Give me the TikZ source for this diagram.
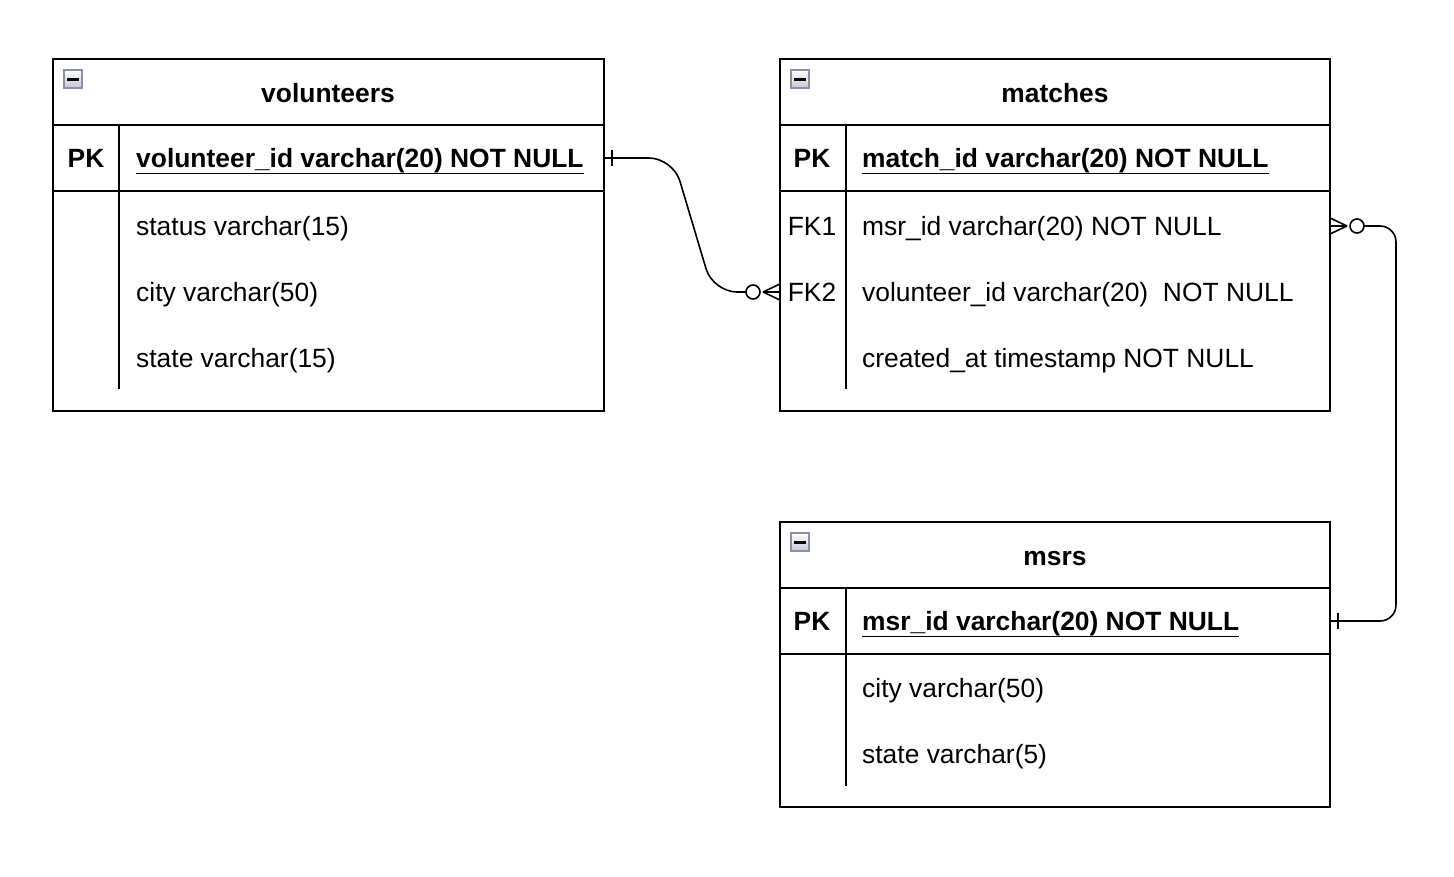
\documentclass[tikz,border=0pt]{standalone}
\usepackage{fontspec}
\setmainfont{Liberation Sans}
\begin{document}
\begin{tikzpicture}[x=1pt,y=-1pt,
  tbl/.style={draw=black, line width=2pt, rectangle, inner sep=0, outer sep=0, anchor=north west},
  sep/.style={line width=1.6pt, black},
  ftxt/.style={inner sep=0, anchor=west, text height=18.6pt, text depth=0pt, font=\fontsize{26.4}{30}\selectfont},
  btxt/.style={ftxt, font=\fontsize{26.4}{30}\selectfont\bfseries},
  ctxt/.style={ftxt, anchor=center},
  cbtxt/.style={btxt, anchor=center},
  conn/.style={line width=1.6pt, black},
  ring/.style={circle, draw=black, line width=1.6pt, fill=white, minimum size=14pt, inner sep=0, outer sep=0},
  icon/.style={rectangle, draw={rgb,255:red,140;green,146;blue,164}, line width=1.5pt, top color=white, bottom color={rgb,255:red,196;green,200;blue,210}, minimum size=18pt, inner sep=0},
  ul/.style={line width=1.6pt, black}
]
\useasboundingbox (0,0) rectangle (1454,876);

% ---------- volunteers ----------
\node[tbl, minimum width=551pt, minimum height=352pt] (vol) at (53,59) {};
\draw[sep] (53,125) -- (604,125);
\draw[sep] (53,191) -- (604,191);
\draw[sep] (119,125) -- (119,389);
\node[icon] (vi) at (73,79) {};
\draw[line width=3pt] ([xshift=-6pt]vi.center) -- ([xshift=6pt]vi.center);
\node[cbtxt] (vt) at (328,93) {volunteers};
\node[cbtxt] (vpkl) at (86,158) {PK};
\node[btxt] (vpk) at (136,158) {volunteer\_id varchar(20) NOT NULL};
\draw[ul] ([yshift=-6pt]vpk.base west) -- ([yshift=-6pt]vpk.base east);
\node[ftxt] (vf1) at (136,226) {status varchar(15)};
\node[ftxt] (vf2) at (136,292) {city varchar(50)};
\node[ftxt] (vf3) at (136,358) {state varchar(15)};

% ---------- matches ----------
\node[tbl, minimum width=550pt, minimum height=352pt] (mat) at (780,59) {};
\draw[sep] (780,125) -- (1330,125);
\draw[sep] (780,191) -- (1330,191);
\draw[sep] (846,125) -- (846,389);
\node[icon] (mi) at (800,79) {};
\draw[line width=3pt] ([xshift=-6pt]mi.center) -- ([xshift=6pt]mi.center);
\node[cbtxt] (mt) at (1055,93) {matches};
\node[cbtxt] (mpkl) at (812,158) {PK};
\node[btxt] (mpk) at (862,158) {match\_id varchar(20) NOT NULL};
\draw[ul] ([yshift=-6pt]mpk.base west) -- ([yshift=-6pt]mpk.base east);
\node[ctxt] (mfk1) at (812,226) {FK1};
\node[ftxt] (mf1) at (862,226) {msr\_id varchar(20) NOT NULL};
\node[ctxt] (mfk2) at (812,292) {FK2};
\node[ftxt] (mf2) at (862,292) {volunteer\_id varchar(20)\ \ NOT NULL};
\node[ftxt] (mf3) at (862,358) {created\_at timestamp NOT NULL};

% ---------- msrs ----------
\node[tbl, minimum width=550pt, minimum height=285pt] (msr) at (780,522) {};
\draw[sep] (780,588) -- (1330,588);
\draw[sep] (780,654) -- (1330,654);
\draw[sep] (846,588) -- (846,786);
\node[icon] (si) at (800,542) {};
\draw[line width=3pt] ([xshift=-6pt]si.center) -- ([xshift=6pt]si.center);
\node[cbtxt] (st) at (1055,556) {msrs};
\node[cbtxt] (spkl) at (812,621) {PK};
\node[btxt] (spk) at (862,621) {msr\_id varchar(20) NOT NULL};
\draw[ul] ([yshift=-6pt]spk.base west) -- ([yshift=-6pt]spk.base east);
\node[ftxt] (sf1) at (862,688) {city varchar(50)};
\node[ftxt] (sf2) at (862,754) {state varchar(5)};

% ---------- connector volunteers -> matches ----------
\node[ring] (r1) at (753,292) {};
\coordinate (f1) at (763,292);
\draw[conn, rounded corners=24pt] (vol.east |- vpk) -- (673,158) -- (713,292) -- (r1.west);
\draw[conn] (vol.east |- vpk) ++(8,-8) -- ++(0,16);
\draw[conn] (f1) -- (mat.west |- mfk2);
\draw[conn] (f1) -- ([yshift=8pt]mat.west |- mfk2);
\draw[conn] (f1) -- ([yshift=-8pt]mat.west |- mfk2);

% ---------- connector msrs -> matches ----------
\node[ring] (r2) at (1357,226) {};
\coordinate (f2) at (1347,226);
\draw[conn, rounded corners=16pt] (r2.east) -- (1396,226) -- (1396,621) -- (msr.east |- spk);
\draw[conn] (msr.east |- spk) ++(8,-8) -- ++(0,16);
\draw[conn] (f2) -- (mat.east |- mf1);
\draw[conn] (f2) -- ([yshift=8pt]mat.east |- mf1);
\draw[conn] (f2) -- ([yshift=-8pt]mat.east |- mf1);
\end{tikzpicture}
\end{document}
